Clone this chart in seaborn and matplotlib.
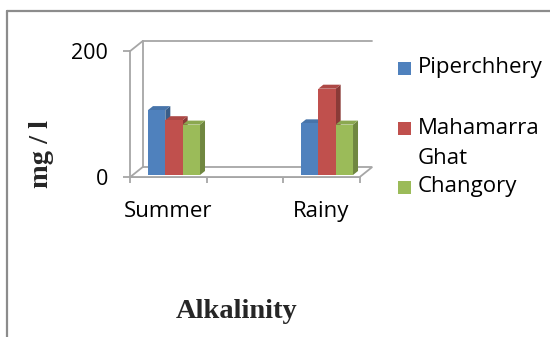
import numpy as np
import pandas as pd
import seaborn as sns
import matplotlib
matplotlib.use("Agg")
import matplotlib.pyplot as plt
from matplotlib.patches import Polygon, Rectangle
from matplotlib.lines import Line2D
from matplotlib.transforms import IdentityTransform
from matplotlib.colors import to_rgb

# ---- data ----
seasons = ["Summer", "Rainy"]
sites = ["Piperchhery", "Mahamarra Ghat", "Changory"]
piperchhery = [103, 82]
mahamarra_ghat = [87, 137]
changory = [80, 80]
y_ticks = [0, 200]
colors = ["#4F81BD", "#C0504D", "#9BBB59"]

df = pd.DataFrame({
    "season": seasons * 3,
    "site": np.repeat(sites, len(seasons)),
    "value": piperchhery + mahamarra_ghat + changory,
})

sns.set_theme(style="white")
plt.rcParams["font.family"] = ["Open Sans", "DejaVu Sans"]

W, H = 550, 337
DPI = 100
fig = plt.figure(figsize=(W / DPI, H / DPI), dpi=DPI)
fig.patch.set_facecolor("white")

# front plane of the 3-D box (pixel layout, top-left origin)
front_left, front_right, front_top, front_base = 130.25, 359.75, 51, 177
ax = fig.add_axes([front_left / W, (H - front_base) / H,
                   (front_right - front_left) / W, (front_base - front_top) / H])
ax.set_facecolor("none")

order = ["Summer", " ", "Rainy"]
sns.barplot(data=df, x="season", y="value", hue="site", order=order,
            hue_order=sites, palette=colors, width=0.68, saturation=1,
            legend=False, ax=ax, edgecolor="none", linewidth=0)
ax.set_xlim(-0.5, 2.5)
ax.set_ylim(0, 200)

grey = "#a6a6a6"
lw = 1.3

# ---- axes styling ----
for s in ["top", "right"]:
    ax.spines[s].set_visible(False)
for s in ["left", "bottom"]:
    ax.spines[s].set_color(grey)
    ax.spines[s].set_linewidth(lw)
ax.set_yticks(y_ticks)
ax.set_yticklabels([str(v) for v in y_ticks])
ax.tick_params(axis="y", length=5, width=lw, color=grey, pad=11,
               labelsize=15.5, labelcolor="black", left=True, direction="out")
ax.set_xticks([0, 2])
ax.set_xticklabels(seasons)
ax.set_xticks([-0.5, 0.5, 1.5, 2.5], minor=True)
ax.tick_params(axis="x", which="major", length=0, pad=17, labelsize=16,
               labelcolor="black")
ax.tick_params(axis="x", which="minor", length=4.5, width=lw, color=grey,
               bottom=True, direction="out")
ax.set_xlabel("")
ax.set_ylabel("")

# ---- box walls and floor (display pixels) ----
fig.canvas.draw()
ident = IdentityTransform()
dx, dy = 12.5, 10   # depth of the box
fl = ax.transData.transform((-0.5, 0))
fr = ax.transData.transform((2.5, 0))
tl = ax.transData.transform((-0.5, 200))
bl, br, btl = fl + (dx, dy), fr + (dx, dy), tl + (dx, dy)
btr = np.array([fr[0] + dx, tl[1] + dy])

floor = Polygon([fl, fr, br, bl], closed=True, facecolor="white",
                edgecolor=grey, linewidth=lw, transform=ident, zorder=0.5)
fig.add_artist(floor)
for a, b in [(tl, btl), (btl, bl), (btl, btr)]:
    fig.add_artist(Line2D([a[0], b[0]], [a[1], b[1]], color=grey,
                          linewidth=lw, transform=ident, zorder=0.6))


# ---- 3-D bars ----
def shade(c, f):
    r, g, b = to_rgb(c)
    return (r * f, g * f, b * f)


bx, by = 5.5, 2        # front face of bars sits behind the front plane
ddx, ddy = 5, 4        # bar depth
bars = [p for p in ax.patches if isinstance(p, Rectangle) and p.get_height() > 0]
bars.sort(key=lambda p: p.get_x())
for i, p in enumerate(bars):
    x0, w, h = p.get_x(), p.get_width(), p.get_height()
    col = p.get_facecolor()
    p.set_visible(False)
    a = ax.transData.transform((x0, 0)) + (bx, by)
    b = ax.transData.transform((x0 + w, h)) + (bx, by)
    z = 2 + i * 0.01
    front = [(a[0], a[1]), (b[0], a[1]), (b[0], b[1]), (a[0], b[1])]
    side = [(b[0], a[1]), (b[0] + ddx, a[1] + ddy),
            (b[0] + ddx, b[1] + ddy), (b[0], b[1])]
    top = [(a[0], b[1]), (b[0], b[1]), (b[0] + ddx, b[1] + ddy),
           (a[0] + ddx, b[1] + ddy)]
    fig.add_artist(Polygon(side, closed=True, facecolor=shade(col, 0.72),
                           edgecolor="none", transform=ident, zorder=z))
    fig.add_artist(Polygon(top, closed=True, facecolor=shade(col, 0.9),
                           edgecolor="none", transform=ident, zorder=z))
    fig.add_artist(Polygon(front, closed=True, facecolor=col,
                           edgecolor="none", transform=ident, zorder=z + 0.005))

# ---- legend ----
legend_rows = [68, 128, 187]
for site, col, yc in zip(sites, colors, legend_rows):
    fig.add_artist(Rectangle((398 / W, 1 - (yc + 6.5) / H), 13 / W, 13 / H,
                             transform=fig.transFigure, facecolor=col,
                             edgecolor="none"))
    lines = site.split(" ") if len(site) > 11 else [site]
    for k, line in enumerate(lines):
        fig.text(418 / W, 1 - (yc + 30 * k) / H, line, fontsize=16,
                 ha="left", va="center", color="black")

# ---- axis titles ----
serif = ["Liberation Serif", "DejaVu Serif"]
fig.text(41 / W, 1 - 154 / H, "mg / l", rotation=90, family=serif,
         fontweight="bold", fontsize=20.5, ha="center", va="center")
fig.text(237 / W, 1 - 312 / H, "Alkalinity", family=serif,
         fontweight="bold", fontsize=20.5, ha="center", va="center")

# ---- chart frame ----
frame = "#8c8c8c"
fig.add_artist(Line2D([7, 7], [0, H - 11], color=frame, linewidth=1.6,
                      transform=ident))
fig.add_artist(Line2D([7, W], [H - 11, H - 11], color=frame, linewidth=1.6,
                      transform=ident))

fig.savefig("out.png", dpi=DPI, facecolor="white")
